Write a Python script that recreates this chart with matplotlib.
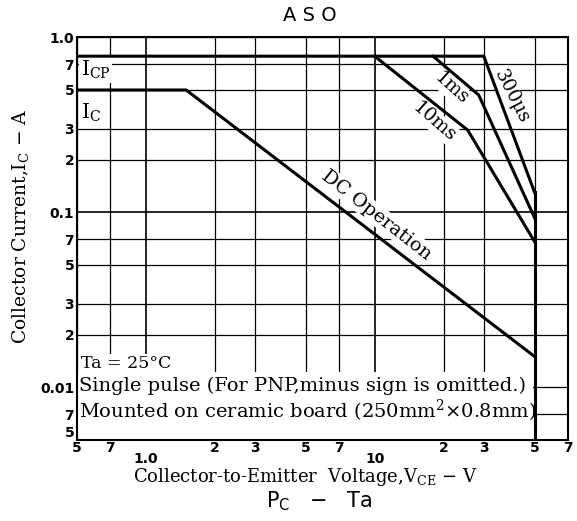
import numpy as np
import matplotlib
matplotlib.use("Agg")
import matplotlib.pyplot as plt
from matplotlib.patches import Rectangle

plt.rcParams['mathtext.fontset'] = 'dejavuserif'

# --- data (V in volts, I in amps) ---
dc_v = [0.5, 1.5, 50]
dc_i = [0.5, 0.5, 0.015]
ms10_v = [10, 25.5, 50]
ms10_i = [0.78, 0.295, 0.068]
ms1_v = [18, 28.5, 50]
ms1_i = [0.78, 0.468, 0.093]
us300_v = [0.5, 30, 50]
us300_i = [0.78, 0.78, 0.13]
vceo_v = [50, 50]
vceo_i = [0.13, 0.005]

yticks = [1.0, 0.7, 0.5, 0.3, 0.2, 0.1, 0.07, 0.05, 0.03, 0.02, 0.01, 0.007, 0.005]
ylabels = ['1.0', '7', '5', '3', '2', '0.1', '7', '5', '3', '2', '0.01', '7', '5']
xticks = [0.5, 0.7, 2, 3, 5, 7, 20, 30, 50, 70]
xlabels = ['5', '7', '2', '3', '5', '7', '2', '3', '5', '7']
xdec = [1, 10]
xdec_labels = ['1.0', '10']

serif = 'DejaVu Serif'
sans = 'DejaVu Sans'

fig = plt.figure(figsize=(5.77, 5.21), dpi=100)
ax = fig.add_axes([0.1334, 0.1555, 0.851, 0.7729])
ax.set_xscale('log')
ax.set_yscale('log')
ax.set_xlim(0.5, 70)
ax.set_ylim(0.005, 1.0)

ax.set_xticks(xticks)
ax.set_xticklabels(xlabels)
ax.set_xticks(xdec, minor=True)
ax.set_xticklabels(xdec_labels, minor=True)
ax.set_yticks(yticks)
ax.set_yticklabels(ylabels)
ax.yaxis.set_minor_locator(matplotlib.ticker.NullLocator())

ax.tick_params(axis='both', which='both', length=0)
ax.tick_params(axis='x', which='major', pad=0.5)
ax.tick_params(axis='x', which='minor', pad=9)
ax.tick_params(axis='y', pad=2)
for lab in ax.get_xticklabels(which='both') + ax.get_yticklabels():
    lab.set_fontfamily(sans)
    lab.set_fontweight('bold')
    lab.set_fontsize(10)
ax.get_yticklabels()[-1].set_va('bottom')

ax.grid(True, which='both', color='black', linewidth=0.9)
ax.set_axisbelow(True)
# decade lines are drawn a bit heavier
for t in ax.xaxis.get_minor_ticks():
    t.gridline.set_linewidth(1.2)
ax.yaxis.get_major_ticks()[yticks.index(0.1)].gridline.set_linewidth(1.2)
for sp in ax.spines.values():
    sp.set_linewidth(1.5)

# white area behind the notes
ax.add_patch(Rectangle((0, 0), 0.929, 0.168, transform=ax.transAxes,
                       facecolor='white', edgecolor='none', zorder=1))

lw = 2.2
ax.plot(dc_v, dc_i, color='black', lw=lw, zorder=3)
ax.plot(ms10_v, ms10_i, color='black', lw=lw, zorder=3)
ax.plot(ms1_v, ms1_i, color='black', lw=lw, zorder=3)
ax.plot(us300_v, us300_i, color='black', lw=lw, zorder=3)
ax.plot(vceo_v, vceo_i, color='black', lw=lw, zorder=3)

wb = dict(facecolor='white', edgecolor='none', pad=1)
ax.text(0.52, 0.65, r'I$_\mathrm{CP}$', fontsize=14.5, family=serif,
        ha='left', va='center', bbox=wb, zorder=2)
ax.text(0.52, 0.37, r'I$_\mathrm{C}$', fontsize=14.5, family=serif,
        ha='left', va='center', bbox=wb, zorder=2)
ax.text(10.2, 0.0965, 'DC Operation', fontsize=13.8, family=serif, rotation=-38,
        ha='center', va='center', rotation_mode='anchor', bbox=wb, zorder=2)
ax.text(18.3, 0.33, '10ms', fontsize=13.5, family=serif, rotation=-41,
        ha='center', va='center', rotation_mode='anchor', bbox=wb, zorder=2)
ax.text(21.7, 0.51, '1ms', fontsize=13.5, family=serif, rotation=-42,
        ha='center', va='center', rotation_mode='anchor', bbox=wb, zorder=2)
ax.text(39.7, 0.46, '300\u03bcs', fontsize=13.5, family=serif, rotation=-63,
        ha='center', va='center', rotation_mode='anchor', bbox=wb, zorder=2)

ax.text(0.008, 0.19, 'Ta = 25\u00b0C', transform=ax.transAxes, fontsize=12.5,
        family=serif, ha='left', va='center', bbox=wb, zorder=2)
ax.text(0.004, 0.134, 'Single pulse (For PNP,minus sign is omitted.)',
        transform=ax.transAxes, fontsize=14, family=serif, ha='left', va='center', zorder=2)
ax.text(0.004, 0.072, r'Mounted on ceramic board (250mm$^2$$\times$0.8mm)',
        transform=ax.transAxes, fontsize=14, family=serif, ha='left', va='center', zorder=2)

ax.set_xlabel(r'Collector-to-Emitter  Voltage,V$_\mathrm{CE}$ $-$ V', fontsize=13,
              family=serif)
ax.xaxis.set_label_coords(0.466, -0.092)
ax.xaxis.label.set_va('center')
ax.set_ylabel(r'Collector Current,I$_\mathrm{C}$ $-$ A', fontsize=13.5,
              family=serif)
ax.yaxis.set_label_coords(-0.116, 0.531)
ax.yaxis.label.set_va('center')

fig.text(0.537, 0.97, 'A S O', fontsize=14, family=sans, ha='center', va='center')
fig.text(0.553, 0.038, r'P$_\mathrm{C}$   $-$   Ta', fontsize=15, family=sans,
         ha='center', va='center', math_fontfamily='dejavusans')

fig.savefig('out.png', dpi=100)
